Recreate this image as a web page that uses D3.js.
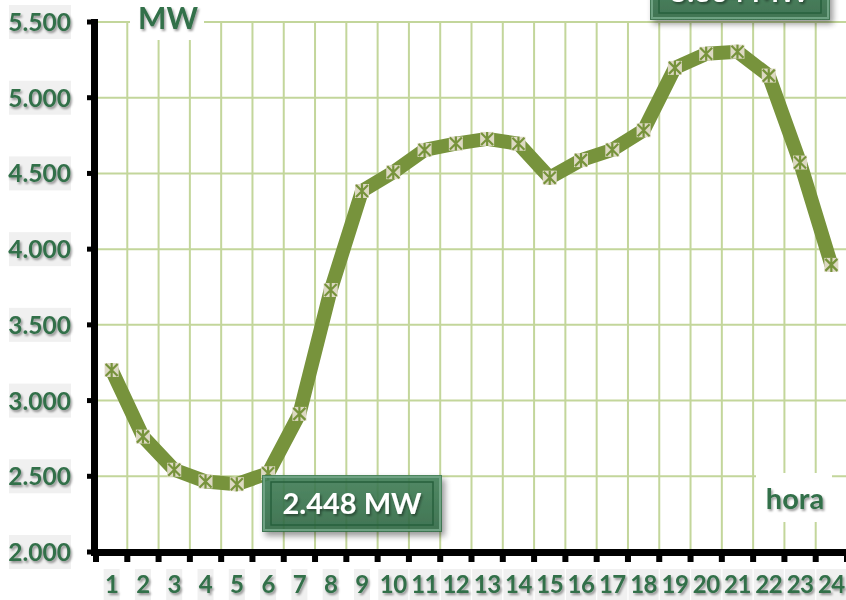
<!DOCTYPE html>
<html>
<head>
<meta charset="utf-8">
<script src="https://cdn.jsdelivr.net/npm/d3@7"></script>
<style>
  body { margin: 0; background: #fff; }
  svg { display: block; font-family: Lato, "Open Sans", sans-serif; }
</style>
</head>
<body>
<svg width="846" height="600"></svg>
<script>
// hourly demand (MW)
const hours = d3.range(1, 25);
const demand = [3202, 2762, 2543, 2466, 2448, 2520, 2912, 3730, 4384, 4508,
                4655, 4697, 4728, 4696, 4472, 4588, 4656, 4785, 5197, 5290,
                5304, 5146, 4572, 3896];
const yTicks = [2000, 2500, 3000, 3500, 4000, 4500, 5000, 5500];
const minLabel = "2.448 MW", maxLabel = "5.304 MW";

const width = 846, height = 600;
const svg = d3.select("svg");

const x = d3.scaleBand().domain(hours).range([96, 847]);
const y = d3.scaleLinear().domain([2000, 5500]).range([552, 22]);
const fmt = d => d3.format(",")(d).replace(",", ".");

const green = "#33704a", line = "#77933c", grid = "#c3d69b";

// filters
const defs = svg.append("defs");
const sh = defs.append("filter").attr("id", "tshadow").attr("x", "-20%").attr("y", "-20%").attr("width", "150%").attr("height", "160%");
sh.append("feDropShadow").attr("dx", 1.5).attr("dy", 2).attr("stdDeviation", 1.3).attr("flood-color", "#000").attr("flood-opacity", 0.4);
const bsh = defs.append("filter").attr("id", "bshadow").attr("x", "-10%").attr("y", "-20%").attr("width", "130%").attr("height", "160%");
bsh.append("feDropShadow").attr("dx", 3).attr("dy", 4).attr("stdDeviation", 3).attr("flood-color", "#000").attr("flood-opacity", 0.45);
const grad = defs.append("linearGradient").attr("id", "boxg").attr("x1", 0).attr("x2", 0).attr("y1", 0).attr("y2", 1);
grad.append("stop").attr("offset", 0).attr("stop-color", "#3f7d55");
grad.append("stop").attr("offset", 1).attr("stop-color", "#2c6641");

// gridlines
svg.append("g").selectAll("line").data(yTicks.slice(1)).join("line")
  .attr("x1", 97).attr("x2", width)
  .attr("y1", d => y(d)).attr("y2", d => y(d))
  .attr("stroke", grid).attr("stroke-width", 2);
svg.append("g").selectAll("line").data(hours).join("line")
  .attr("x1", d => x(d) + x.bandwidth()).attr("x2", d => x(d) + x.bandwidth())
  .attr("y1", y(5500)).attr("y2", y(2000))
  .attr("stroke", grid).attr("stroke-width", 2);

// white boxes behind axis titles
svg.append("rect").attr("x", 130).attr("y", 0).attr("width", 74).attr("height", 40).attr("fill", "#fff");
svg.append("rect").attr("x", 756).attr("y", 473).attr("width", 76).attr("height", 49).attr("fill", "#fff");

svg.append("text").attr("x", 168).attr("y", 29).attr("text-anchor", "middle")
  .attr("font-size", 30).attr("font-weight", 700).attr("fill", green)
  .attr("filter", "url(#tshadow)").text("MW");
svg.append("text").attr("x", 795).attr("y", 509).attr("text-anchor", "middle")
  .attr("font-size", 29).attr("font-weight", 700).attr("fill", green)
  .attr("filter", "url(#tshadow)").text("hora");

// series line
const path = d3.line().x((d, i) => x(hours[i]) + x.bandwidth() / 2).y(d => y(d));
svg.append("path").datum(demand).attr("d", path)
  .attr("fill", "none").attr("stroke", line).attr("stroke-width", 14)
  .attr("stroke-linejoin", "round");

// markers
const mk = svg.append("g").selectAll("g").data(demand).join("g")
  .attr("transform", (d, i) => `translate(${x(hours[i]) + x.bandwidth() / 2},${y(d)})`);
mk.append("rect").attr("x", -7).attr("y", -7).attr("width", 14).attr("height", 14).attr("fill", "#ddd9c3");
mk.append("path").attr("d", "M-6,-6L6,6M-6,6L6,-6M0,-7L0,7")
  .attr("stroke", line).attr("stroke-width", 2.2);

// axes
const ax = svg.append("g");
ax.append("line").attr("x1", 94.5).attr("x2", 94.5).attr("y1", 19).attr("y2", 556)
  .attr("stroke", "#000").attr("stroke-width", 7);
ax.append("line").attr("x1", 91).attr("x2", width).attr("y1", 552.5).attr("y2", 552.5)
  .attr("stroke", "#000").attr("stroke-width", 7);
ax.selectAll(".yt").data(yTicks).join("rect").attr("class", "yt")
  .attr("x", 87).attr("y", d => y(d) - 2.5).attr("width", 8).attr("height", 5).attr("fill", "#000");
ax.selectAll(".xt").data([0].concat(hours)).join("rect").attr("class", "xt")
  .attr("x", d => (d === 0 ? 96 : x(d) + x.bandwidth()) - 3).attr("y", 555)
  .attr("width", 6).attr("height", 7).attr("fill", "#000");

// y tick labels
const yl = svg.append("g").selectAll("g").data(yTicks).join("g")
  .attr("transform", d => `translate(0,${y(d)})`);
yl.append("rect").attr("x", 9).attr("y", -17).attr("width", 62).attr("height", 34).attr("fill", "#f0f0f0");
yl.append("text").attr("x", 71).attr("y", 9).attr("text-anchor", "end")
  .attr("font-size", 24.5).attr("font-weight", 700).attr("fill", green)
  .attr("filter", "url(#tshadow)").text(fmt);

// x tick labels
const xl = svg.append("g").selectAll("g").data(hours).join("g")
  .attr("transform", d => `translate(${x(d) + x.bandwidth() / 2},583)`);
xl.append("rect").attr("x", d => d < 10 ? -8 : -15).attr("y", -14)
  .attr("width", d => d < 10 ? 16 : 30).attr("height", 32).attr("fill", "#f0f0f0");
xl.append("text").attr("y", 10).attr("text-anchor", "middle")
  .attr("font-size", 24).attr("font-weight", 700).attr("fill", green)
  .attr("letter-spacing", -0.5)
  .attr("filter", "url(#tshadow)").text(d => d);

// callout boxes
function callout(cx, top, label) {
  const g = svg.append("g").attr("transform", `translate(${cx - 90},${top})`);
  g.append("rect").attr("width", 180).attr("height", 57).attr("fill", "url(#boxg)")
    .attr("opacity", 0.9).attr("filter", "url(#bshadow)");
  g.append("rect").attr("x", 2).attr("y", 2).attr("width", 176).attr("height", 53)
    .attr("fill", "none").attr("stroke", "#6fa283").attr("stroke-width", 2);
  g.append("rect").attr("x", 9).attr("y", 7).attr("width", 162).attr("height", 43)
    .attr("fill", "none").attr("stroke", "#27603c").attr("stroke-width", 1.5);
  g.append("text").attr("x", 90).attr("y", 39).attr("text-anchor", "middle")
    .attr("font-size", 29).attr("font-weight", 700).attr("fill", "#fff")
    .attr("filter", "url(#tshadow)").text(label);
}
callout(352, 475, minLabel);
callout(740, -37, maxLabel);
</script>
</body>
</html>
